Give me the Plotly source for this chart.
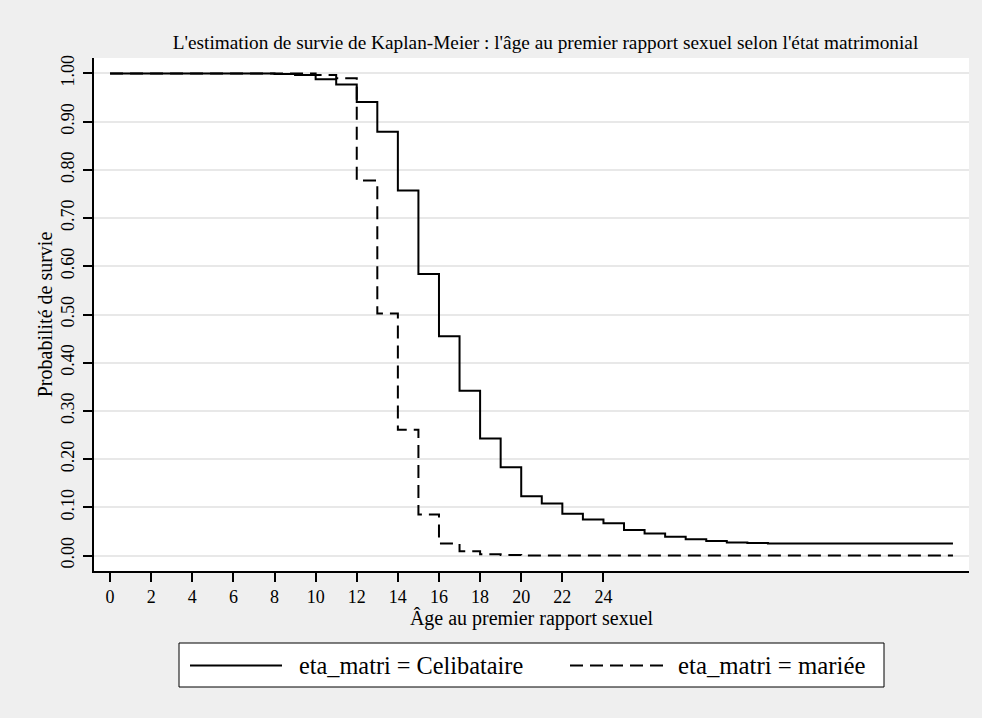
import plotly.graph_objects as go

# Kaplan-Meier survival estimates: age at first sexual intercourse by marital status
ages_celib = [0, 8, 9, 10, 11, 12, 13, 14, 15, 16, 17, 18, 19, 20, 21, 22, 23,
              24, 25, 26, 27, 28, 29, 30, 31, 32, 41]
surv_celib = [1.000, 0.999, 0.997, 0.988, 0.977, 0.941, 0.879, 0.757, 0.584,
              0.455, 0.342, 0.243, 0.183, 0.123, 0.108, 0.087, 0.075, 0.067,
              0.053, 0.046, 0.039, 0.034, 0.030, 0.027, 0.026, 0.025, 0.025]

ages_mariee = [0, 10, 11, 12, 13, 14, 15, 16, 17, 18, 19, 20, 41]
surv_mariee = [1.000, 0.997, 0.990, 0.778, 0.502, 0.261, 0.085, 0.025, 0.009,
               0.003, 0.001, 0.000, 0.000]

x_ticks = list(range(0, 25, 2))
y_ticks = [i / 10 for i in range(11)]

label_celib = "eta_matri = Celibataire"
label_mariee = "eta_matri = mariée"
title_text = ("L'estimation de survie de Kaplan-Meier : l'âge au premier "
              "rapport sexuel selon l'état matrimonial")
x_title = "Âge au premier rapport sexuel"
y_title = "Probabilité de survie"

FONT = "Liberation Serif"
W, H = 982, 718
ML, MR, MT, MB = 94, 13, 58, 147
PW, PH = W - ML - MR, H - MT - MB


def px(x):
    """Horizontal pixel -> paper coordinate."""
    return (x - ML) / PW


def py(y):
    """Vertical pixel -> paper coordinate."""
    return (H - MB - y) / PH


fig = go.Figure()
fig.add_trace(go.Scatter(
    x=ages_celib, y=surv_celib, mode="lines", line_shape="hv",
    line=dict(color="black", width=2), name=label_celib, showlegend=False))
fig.add_trace(go.Scatter(
    x=ages_mariee, y=surv_mariee, mode="lines", line_shape="hv",
    line=dict(color="black", width=2, dash="13px,7px"), name=label_mariee,
    showlegend=False))

# legend box drawn by hand: wide line samples as in Stata output
legend_y = py(665.5)
shapes = [
    dict(type="rect", xref="paper", yref="paper",
         x0=px(179), x1=px(884), y0=py(687), y1=py(643),
         fillcolor="white", line=dict(color="black", width=1)),
    dict(type="line", xref="paper", yref="paper",
         x0=px(190), x1=px(282), y0=legend_y, y1=legend_y,
         line=dict(color="black", width=2)),
    dict(type="line", xref="paper", yref="paper",
         x0=px(570), x1=px(664), y0=legend_y, y1=legend_y,
         line=dict(color="black", width=2, dash="13px,7px")),
]
annotations = [
    dict(text=label_celib, xref="paper", yref="paper", x=px(297), y=legend_y,
         xanchor="left", yanchor="middle", showarrow=False,
         font=dict(family=FONT, size=24.3, color="black")),
    dict(text=label_mariee, xref="paper", yref="paper", x=px(676), y=legend_y,
         xanchor="left", yanchor="middle", showarrow=False,
         font=dict(family=FONT, size=24.8, color="black")),
]

fig.update_layout(
    width=W, height=H,
    margin=dict(l=ML, r=MR, t=MT, b=MB),
    paper_bgcolor="#efefef", plot_bgcolor="white",
    font=dict(family=FONT, color="black"),
    title=dict(text=title_text, x=px(545.5), xref="paper", xanchor="center",
               y=1 - 42 / H, yanchor="middle",
               font=dict(family=FONT, size=19.3, color="black")),
    shapes=shapes, annotations=annotations,
    showlegend=False,
)
fig.update_xaxes(
    range=[-0.78, 41.78], tickvals=x_ticks, ticktext=[str(t) for t in x_ticks],
    showgrid=False, zeroline=False,
    showline=True, linecolor="black", linewidth=1.5,
    ticks="outside", ticklen=9, tickwidth=1.5, tickcolor="black",
    tickfont=dict(family=FONT, size=18, color="black"),
    title=dict(text=x_title, standoff=2,
               font=dict(family=FONT, size=20, color="black")),
)
fig.update_yaxes(
    range=[-0.032, 1.032], tickvals=y_ticks, tickformat=".2f", tickangle=-90,
    ticklabelstandoff=2,
    showgrid=True, gridcolor="#e8e8e8", gridwidth=2, zeroline=False,
    showline=True, linecolor="black", linewidth=1.5,
    ticks="outside", ticklen=9, tickwidth=1.5, tickcolor="black",
    tickfont=dict(family=FONT, size=18, color="black"),
    title=dict(text=y_title, standoff=0,
               font=dict(family=FONT, size=20, color="black")),
)

fig.write_html("out.html")
